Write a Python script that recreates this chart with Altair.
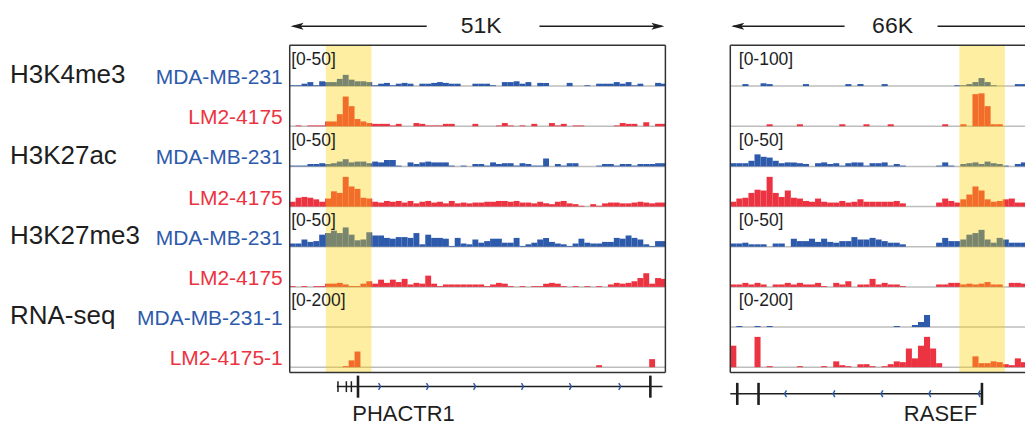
import altair as alt
import pandas as pd

FONT = "Liberation Sans"
BLUE = "#2B59A6"
RED = "#E92A47"
LABEL_BLUE = "#2E5AAC"
LABEL_RED = "#EC3341"
GRID = "#BDBDBD"
YELLOW = "#FAD200"
INK = "#1E1E1E"

# ---------------- data ----------------
MARK_NAMES = ["H3K4me3", "H3K27ac", "H3K27me3", "RNA-seq"]
MARK_TRACKS = [0, 2, 4, 6]
CELL_NAMES = ["MDA-MB-231", "LM2-4175", "MDA-MB-231", "LM2-4175",
              "MDA-MB-231", "LM2-4175", "MDA-MB-231-1", "LM2-4175-1"]
CELL_LINES = ["MDA", "LM2", "MDA", "LM2", "MDA", "LM2", "MDA", "LM2"]

LEFT_SPAN_KB = 51
RIGHT_SPAN_KB = 66
LEFT_BIN_KB = 0.8
RIGHT_BIN_KB = 1.25
LEFT_RANGES = [50, 50, 50, 50, 50, 50, 200, 200]
RIGHT_RANGES = [100, 100, 50, 50, 50, 50, 200, 200]
LEFT_HIGHLIGHT_KB = [4.9, 11.1]
RIGHT_HIGHLIGHT_KB = [47.3, 56.7]

LEFT_K4_MDA = [1,1,3,5,1,6,5,5,9,14,8,6,6,5,1,3,4,1,3,4,3,0,3,3,4,5,4,3,3,0,0,3,
               3,3,1,0,5,5,6,3,5,0,4,4,0,0,0,4,0,0,1,0,3,3,3,5,3,5,1,3,0,0,4,3]
LEFT_K4_LM2 = [0,1,0,1,1,1,6,6,15,37,25,9,6,4,3,3,3,1,3,0,0,4,3,1,1,1,3,3,0,0,0,3,
               0,0,0,1,4,1,0,1,0,3,0,0,4,1,3,0,1,1,0,0,0,0,0,1,4,3,3,0,5,0,3,3]
LEFT_K27AC_MDA = [1,1,1,3,3,4,3,4,6,9,5,6,6,4,6,5,8,8,1,0,5,3,5,6,5,5,5,1,0,1,0,3,
                  3,1,5,3,4,4,1,4,3,1,1,10,0,3,1,4,4,0,0,0,1,3,3,1,3,3,1,3,3,3,4,4]
LEFT_K27AC_LM2 = [6,11,12,11,9,6,10,19,17,37,25,22,11,10,6,5,7,6,7,5,7,4,6,7,5,6,4,7,4,5,4,5,
                  5,6,6,7,7,6,7,5,5,4,6,4,3,6,7,4,3,1,0,3,1,4,5,5,4,4,5,6,5,4,5,5]
LEFT_K27ME3_MDA = [4,4,9,6,7,15,17,20,17,24,15,8,9,18,14,14,11,10,12,12,11,17,3,15,11,11,10,1,11,4,3,9,
                   5,7,10,10,5,5,11,1,3,5,9,11,6,4,3,1,4,10,5,4,4,6,6,11,10,14,11,9,3,1,7,7]
LEFT_K27ME3_LM2 = [1,0,1,0,1,1,4,4,5,3,1,1,4,7,4,9,5,9,6,10,3,5,4,14,4,1,3,3,3,3,3,3,
                   3,1,3,5,4,1,0,1,0,1,1,4,5,4,1,0,1,0,1,0,1,0,3,5,4,5,7,11,17,4,11,10]
LEFT_RNA_MDA = [0,0,0,0,0,0,0,0,0,0,0,0,0,0,0,0,0,0,0,0,0,0,0,0,0,0,0,0,0,0,0,0,
                0,0,0,0,0,0,0,0,0,0,0,0,0,0,0,0,0,0,0,0,0,0,0,0,0,0,0,0,0,0,0,0]
LEFT_RNA_LM2 = [0,0,0,0,0,0,0,0,0,5,34,78,0,0,0,0,0,0,0,0,0,0,0,0,0,0,0,0,0,0,0,0,
                0,0,0,0,0,0,0,0,0,0,0,0,0,0,0,0,0,0,0,0,10,0,0,0,0,0,0,0,0,40,0,0]

RIGHT_K4_MDA = [0,0,5,0,0,7,5,0,0,0, 0,0,5,0,0,0,0,0,0,5, 0,5,0,0,0,5,0,0,0,0,
                0,0,0,0,0,0,0,2,2,5, 10,20,10,2,0,0,0,5,5,5]
RIGHT_K4_LM2 = [0,0,0,0,0,0,5,0,0,0, 0,5,0,0,0,0,0,0,5,0, 0,0,5,0,0,0,5,0,0,0,
                0,0,0,0,0,5,0,0,5,0, 80,82,50,5,5,0,0,0,0,0]
RIGHT_K27AC_MDA = [4,4,4,7,15,12,11,7,4,5,5,4,3,0,4,5,3,4,1,4,5,5,1,4,4,5,1,3,1,0,
                   0,0,0,0,1,5,1,0,3,4,5,3,6,4,3,1,0,3,5,5]
RIGHT_K27AC_LM2 = [6,10,11,17,21,20,37,17,12,20,11,10,7,6,10,6,5,5,7,5,6,9,6,6,6,6,6,7,4,0,
                   0,0,0,0,5,10,7,5,9,15,25,20,9,6,7,9,10,5,5,6]
RIGHT_K27ME3_MDA = [4,4,5,3,3,3,0,4,4,0,10,7,7,10,6,10,6,5,7,7,12,9,9,11,9,7,5,5,3,0,
                    0,0,0,0,5,11,7,7,9,15,17,21,9,5,11,9,5,5,5,5]
RIGHT_K27ME3_LM2 = [3,3,5,3,5,3,0,3,3,5,3,5,3,3,5,1,0,5,3,7,0,3,3,10,3,5,3,3,1,0,
                    0,0,0,0,3,3,5,5,3,4,3,4,6,3,3,0,5,5,4,4]
RIGHT_RNA_MDA = [0,5,0,0,5,0,5,0,0,0, 0,0,0,0,0,0,0,0,0,0, 0,0,0,0,0,0,0,5,0,0,
                 10,25,60,0,0,0,0,0,0,0, 0,0,0,0,0,0,0,0,0,0]
RIGHT_RNA_LM2 = [107,0,0,0,151,0,5,0,0,0, 0,5,0,0,0,5,0,29,10,5, 0,15,15,5,0,5,15,29,25,93,
                 44,107,151,93,20,0,0,0,0,0, 54,20,20,29,25,15,10,44,25,10]

LEFT_SIGNALS = [LEFT_K4_MDA, LEFT_K4_LM2, LEFT_K27AC_MDA, LEFT_K27AC_LM2,
                LEFT_K27ME3_MDA, LEFT_K27ME3_LM2, LEFT_RNA_MDA, LEFT_RNA_LM2]
RIGHT_SIGNALS = [RIGHT_K4_MDA, RIGHT_K4_LM2, RIGHT_K27AC_MDA, RIGHT_K27AC_LM2,
                 RIGHT_K27ME3_MDA, RIGHT_K27ME3_LM2, RIGHT_RNA_MDA, RIGHT_RNA_LM2]

# gene models (kb from panel start)
LEFT_GENE = "PHACTR1"
LEFT_GENE_SPAN = [6.4, 50.6]
LEFT_SMALL_EXONS = [6.55, 7.69, 8.37]
LEFT_BIG_EXONS = [9.27, 48.96]
LEFT_CHEVRONS = [12.2, 18.7, 25.1, 31.6, 38.1, 44.8]
RIGHT_GENE = "RASEF"
RIGHT_GENE_SPAN = [0.0, 51.96]
RIGHT_SMALL_EXONS = []
RIGHT_BIG_EXONS = [1.44, 5.83, 51.96]
RIGHT_CHEVRONS = [11.4, 21.4, 31.3, 41.2, 51.4]

# ---------------- layout ----------------
H = 414
Y_DOMAIN = [-0.94, 9.36]
FRAME_TOP = -0.02
FRAME_BOTTOM = 8.13
ARROW_Y = -0.49
ys = alt.Scale(domain=Y_DOMAIN, reverse=True, zero=False, nice=False)
cell_color = alt.Scale(domain=["MDA", "LM2"], range=[BLUE, RED])
label_color = alt.Scale(domain=["MDA", "LM2"], range=[LABEL_BLUE, LABEL_RED])

HEAD_LEFT = "M -1 0 L 1 -0.55 L 0.55 0 L 1 0.55 Z"
HEAD_RIGHT = "M 1 0 L -1 -0.55 L -0.55 0 L -1 0.55 Z"
CHEV_RIGHT = "M -0.3 -1 L 0.3 0 L -0.3 1"
CHEV_LEFT = "M 0.3 -1 L -0.3 0 L 0.3 1"


def Y(f):
    return alt.Y(f, type="quantitative", scale=ys, axis=None)


def build_panel(p):
    xs = alt.Scale(domain=[0, p["x_max"]], zero=False, nice=False)
    xend = min(p["span"], p["x_max"])

    def X(f):
        return alt.X(f, type="quantitative", scale=xs, axis=None)

    rows = []
    for t, arr in enumerate(p["signals"]):
        for k, v in enumerate(arr):
            if v > 0 and k * p["bin"] < xend:
                rows.append({"track": t, "start": k * p["bin"],
                             "end": min((k + 1) * p["bin"], xend),
                             "value": v, "max": p["ranges"][t], "cell": CELL_LINES[t]})
    bars_df = pd.DataFrame(rows)
    base_df = pd.DataFrame({"track": list(range(8)), "x0": 0, "x1": xend})
    band_df = pd.DataFrame({"x0": [p["hl"][0]], "x1": [p["hl"][1]],
                            "y0": [FRAME_TOP], "y1": [FRAME_BOTTOM]})
    scale_df = pd.DataFrame({"track": MARK_TRACKS,
                             "label": ["[0-%d]" % p["ranges"][t] for t in MARK_TRACKS]})

    layers = []
    layers.append(alt.Chart(base_df).transform_calculate(yb="datum.track + 1")
                  .mark_rule(color=GRID, strokeWidth=1.5)
                  .encode(x=X("x0"), x2="x1", y=Y("yb")))
    layers.append(alt.Chart(bars_df)
                  .transform_calculate(yb="datum.track + 1",
                                       yt="datum.track + 1 - datum.value / datum.max")
                  .mark_rect()
                  .encode(x=X("start"), x2="end", y=Y("yb"), y2="yt",
                          color=alt.Color("cell:N", scale=cell_color, legend=None)))
    layers.append(alt.Chart(band_df).mark_rect(color=YELLOW, opacity=0.37)
                  .encode(x=X("x0"), x2="x1", y=Y("y0"), y2="y1"))
    # frame: horizontal edges and vertical edges (only those inside the view)
    hedge = pd.DataFrame({"x0": [0, 0], "x1": [xend, xend], "y": [FRAME_TOP, FRAME_BOTTOM]})
    layers.append(alt.Chart(hedge).mark_rule(color="#333333", strokeWidth=1.5)
                  .encode(x=X("x0"), x2="x1", y=Y("y")))
    vx = [0] + ([p["span"]] if p["span"] <= p["x_max"] else [])
    vedge = pd.DataFrame({"x": vx, "y0": FRAME_TOP, "y1": FRAME_BOTTOM})
    layers.append(alt.Chart(vedge).mark_rule(color="#333333", strokeWidth=1.5)
                  .encode(x=X("x"), y=Y("y0"), y2="y1"))
    layers.append(alt.Chart(scale_df).transform_calculate(ly="datum.track + 0.48")
                  .mark_text(align="left", baseline="alphabetic", font=FONT,
                             fontSize=17.5, color=INK)
                  .encode(x=alt.value(p["scale_dx"]), y=Y("ly"), text="label:N"))

    # ruler
    seg_df = pd.DataFrame({"x0": [p["ruler"][0], p["ruler"][2]],
                           "x1": [p["ruler"][1], min(p["ruler"][3], p["x_max"])], "y": ARROW_Y})
    layers.append(alt.Chart(seg_df).mark_rule(color=INK, strokeWidth=1.5)
                  .encode(x=X("x0"), x2="x1", y=Y("y")))
    layers.append(alt.Chart(pd.DataFrame({"x": [p["heads"][0]], "y": [ARROW_Y]}))
                  .mark_point(shape=HEAD_LEFT, filled=True, size=169, color=INK, opacity=1)
                  .encode(x=X("x"), y=Y("y")))
    if p["heads"][1] < p["x_max"]:
        layers.append(alt.Chart(pd.DataFrame({"x": [p["heads"][1]], "y": [ARROW_Y]}))
                      .mark_point(shape=HEAD_RIGHT, filled=True, size=169, color=INK, opacity=1)
                      .encode(x=X("x"), y=Y("y")))
    layers.append(alt.Chart(pd.DataFrame({"x": [p["ruler_x"]], "y": [-0.33], "t": [p["ruler_text"]]}))
                  .mark_text(align="center", baseline="alphabetic", font=FONT,
                             fontSize=23, color=INK)
                  .encode(x=X("x"), y=Y("y"), text="t:N"))

    # gene model
    gy = p["gene_y"]
    layers.append(alt.Chart(pd.DataFrame({"x0": [p["gene_span"][0]], "x1": [p["gene_span"][1]], "y": [gy]}))
                  .mark_rule(color=INK, strokeWidth=1.5)
                  .encode(x=X("x0"), x2="x1", y=Y("y")))
    if p["small_exons"]:
        layers.append(alt.Chart(pd.DataFrame({"x": p["small_exons"], "y0": gy - 0.13, "y1": gy + 0.14}))
                      .mark_rule(color=INK, strokeWidth=1.5)
                      .encode(x=X("x"), y=Y("y0"), y2="y1"))
    layers.append(alt.Chart(pd.DataFrame({"x": p["big_exons"], "y0": gy - 0.27, "y1": gy + 0.28}))
                  .mark_rule(color=INK, strokeWidth=2.6)
                  .encode(x=X("x"), y=Y("y0"), y2="y1"))
    layers.append(alt.Chart(pd.DataFrame({"x": p["chevrons"], "y": gy}))
                  .mark_point(shape=p["chev"], filled=False, size=45, color=BLUE,
                              strokeWidth=1.4, opacity=1)
                  .encode(x=X("x"), y=Y("y")))
    layers.append(alt.Chart(pd.DataFrame({"x": [p["gene_x"]], "y": [9.33], "t": [p["gene"]]}))
                  .mark_text(align="center", baseline="alphabetic", font=FONT,
                             fontSize=22, color=INK)
                  .encode(x=X("x"), y=Y("y"), text="t:N"))

    return alt.layer(*layers).properties(width=p["width"], height=H)


left = build_panel({
    "signals": LEFT_SIGNALS, "ranges": LEFT_RANGES, "span": LEFT_SPAN_KB,
    "bin": LEFT_BIN_KB, "width": 441, "x_max": 59.81, "hl": LEFT_HIGHLIGHT_KB,
    "scale_dx": 1.5, "ruler": [0.5, 18.6, 33.9, 50.5], "heads": [1.0, 49.98],
    "ruler_x": 26.0, "ruler_text": "51K",
    "gene": LEFT_GENE, "gene_x": 15.45, "gene_span": LEFT_GENE_SPAN, "gene_y": 8.48,
    "small_exons": LEFT_SMALL_EXONS, "big_exons": LEFT_BIG_EXONS,
    "chevrons": LEFT_CHEVRONS, "chev": CHEV_RIGHT,
})

right = build_panel({
    "signals": RIGHT_SIGNALS, "ranges": RIGHT_RANGES, "span": RIGHT_SPAN_KB,
    "bin": RIGHT_BIN_KB, "width": 295, "x_max": 60.85, "hl": RIGHT_HIGHLIGHT_KB,
    "scale_dx": 8.5, "ruler": [0.6, 23.6, 42.8, 65.5], "heads": [1.55, 64.65],
    "ruler_x": 33.5, "ruler_text": "66K",
    "gene": RIGHT_GENE, "gene_x": 43.4, "gene_span": RIGHT_GENE_SPAN, "gene_y": 8.66,
    "small_exons": RIGHT_SMALL_EXONS, "big_exons": RIGHT_BIG_EXONS,
    "chevrons": RIGHT_CHEVRONS, "chev": CHEV_LEFT,
})

mark_df = pd.DataFrame({"label": MARK_NAMES, "track": MARK_TRACKS})
cell_df = pd.DataFrame({"label": CELL_NAMES, "track": list(range(8)), "cell": CELL_LINES})

labels = alt.layer(
    alt.Chart(mark_df).transform_calculate(ly="datum.track + 0.93")
    .mark_text(align="left", baseline="alphabetic", font=FONT, fontSize=26, color=INK)
    .encode(x=alt.value(2), y=Y("ly"), text="label:N"),
    alt.Chart(cell_df).transform_calculate(ly="datum.track + 0.95")
    .mark_text(align="right", baseline="alphabetic", font=FONT, fontSize=21)
    .encode(x=alt.value(275), y=Y("ly"), text="label:N",
            color=alt.Color("cell:N", scale=label_color, legend=None)),
).properties(width=282, height=H)

chart = alt.HConcatChart(hconcat=[labels, left, right], spacing=0, bounds="flush",
                         padding=0).configure_view(strokeWidth=0)

chart.save("out.html", embed_options={"renderer": "svg", "actions": False})
